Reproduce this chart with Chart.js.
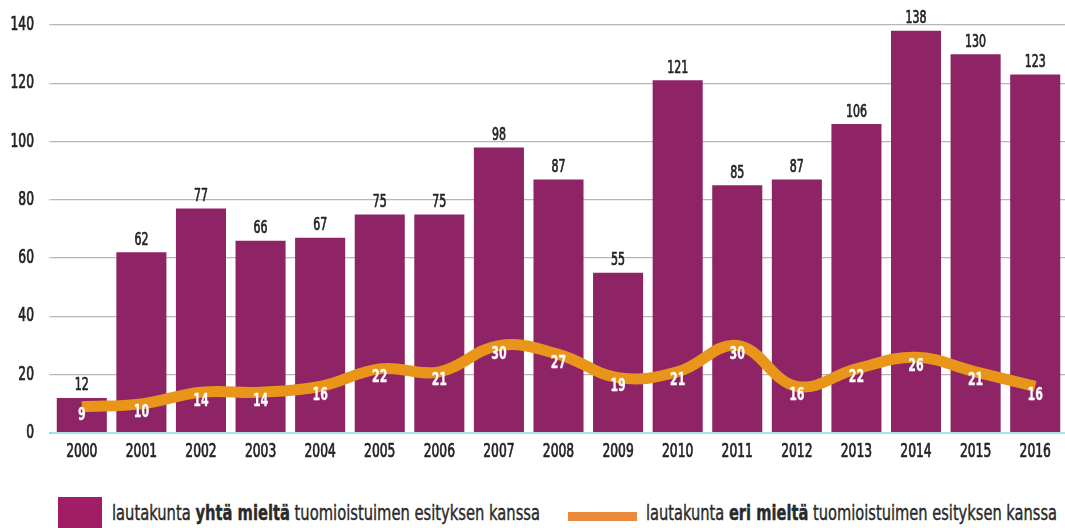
<!DOCTYPE html>
<html>
<head>
<meta charset="utf-8">
<script src="https://cdn.jsdelivr.net/npm/chart.js@4"></script>
<style>
  body { margin: 0; background: #fff; width: 1065px; height: 528px; overflow: hidden; position: relative; }
  #wrap { position: absolute; left: 0; top: 0; width: 1065px; height: 470px; }
  .legend { position: absolute; font-family: 'DejaVu Sans Condensed', 'DejaVu Sans', sans-serif; font-size: 22px; color: #2a2a2a; white-space: nowrap; transform-origin: 0 0; -webkit-text-stroke: 0.4px #2a2a2a; }
  .legend b { font-weight: bold; }
  .box { position: absolute; }
</style>
</head>
<body>
<div id="wrap"><canvas id="chart"></canvas></div>

<div class="box" style="left:58px; top:497px; width:44px; height:31px; background:#a11d66;"></div>
<div class="legend" id="leg1" data-w="428" style="left:112px; top:500px;">lautakunta <b>yhtä mieltä</b> tuomioistuimen esityksen kanssa</div>
<div class="box" style="left:568px; top:512px; width:69px; height:9px; background:#e8893c;"></div>
<div class="legend" id="leg2" data-w="411" style="left:646px; top:500px;">lautakunta <b>eri mieltä</b> tuomioistuimen esityksen kanssa</div>

<script>
const years = ["2000", "2001", "2002", "2003", "2004", "2005", "2006", "2007", "2008",
  "2009", "2010", "2011", "2012", "2013", "2014", "2015", "2016"];
const agreeValues = [12, 62, 77, 66, 67, 75, 75, 98, 87, 55, 121, 85, 87, 106, 138, 130, 123];
const disagreeValues = [9, 10, 14, 14, 16, 22, 21, 30, 27, 19, 21, 30, 16, 22, 26, 21, 16];
const yTicks = [0, 20, 40, 60, 80, 100, 120, 140];

const FONT = "'DejaVu Sans Condensed', 'DejaVu Sans', sans-serif";
const SQUEEZE = 0.72;

// squeeze legend text to the narrow look of the original
document.querySelectorAll(".legend").forEach(el => {
  const w = el.getBoundingClientRect().width;
  el.style.transform = "scaleX(" + (Number(el.dataset.w) / w) + ")";
});

function narrowText(ctx, text, x, y) {
  ctx.save();
  ctx.translate(x, y);
  ctx.scale(SQUEEZE, 1);
  ctx.strokeText(text, 0, 0);
  ctx.fillText(text, 0, 0);
  ctx.restore();
}

// tick labels and value labels, drawn condensed
const labelsPlugin = {
  id: "labelsPlugin",
  afterDatasetsDraw(chart) {
    const ctx = chart.ctx;
    const xs = chart.scales.x;
    const ys = chart.scales.y;
    ctx.save();
    ctx.textBaseline = "middle";
    ctx.lineWidth = 0.7;
    ctx.lineJoin = "round";

    ctx.fillStyle = ctx.strokeStyle = "#222";
    ctx.font = "19px " + FONT;
    ctx.textAlign = "right";
    yTicks.forEach(v => narrowText(ctx, String(v), 34, ys.getPixelForValue(v)));

    ctx.textAlign = "center";
    years.forEach((y, i) => narrowText(ctx, y, xs.getPixelForValue(i), 452));

    ctx.font = "17px " + FONT;
    chart.getDatasetMeta(0).data.forEach((bar, i) => {
      narrowText(ctx, String(agreeValues[i]), bar.x, bar.y - 12);
    });

    ctx.fillStyle = ctx.strokeStyle = "#fff";
    ctx.lineWidth = 0.3;
    ctx.font = "bold 17px " + FONT;
    chart.getDatasetMeta(1).data.forEach((pt, i) => {
      narrowText(ctx, String(disagreeValues[i]), pt.x, pt.y + 9);
    });

    ctx.restore();
  }
};

new Chart(document.getElementById("chart"), {
  data: {
    labels: years,
    datasets: [
      {
        type: "bar",
        data: agreeValues,
        backgroundColor: "#8e2366",
        categoryPercentage: 0.84,
        barPercentage: 1,
        order: 1
      },
      {
        type: "line",
        data: disagreeValues,
        borderColor: "#e8951a",
        borderWidth: 11,
        tension: 0.4,
        pointRadius: 0,
        borderCapStyle: "butt",
        order: 0
      }
    ]
  },
  options: {
    responsive: true,
    maintainAspectRatio: false,
    animation: false,
    layout: { padding: { left: 0, right: 0, top: 25, bottom: 0 } },
    plugins: {
      legend: { display: false },
      tooltip: { enabled: false }
    },
    scales: {
      x: {
        grid: { display: false },
        border: { display: false },
        ticks: { display: false },
        afterFit(axis) { axis.height = 37; }
      },
      y: {
        min: 0,
        max: 140,
        afterBuildTicks(axis) {
          axis.ticks = yTicks.map(v => ({ value: v }));
        },
        afterFit(axis) { axis.width = 52; },
        border: { display: false },
        grid: {
          color: ctx => ctx.tick && ctx.tick.value === 0 ? "#a6e3ef" : "#bab5b0",
          lineWidth: ctx => ctx.tick && ctx.tick.value === 0 ? 2 : 1.3,
          drawTicks: true,
          tickLength: 3,
          tickColor: "#8fdcec"
        },
        ticks: { display: false }
      }
    }
  },
  plugins: [labelsPlugin]
});
</script>
</body>
</html>
